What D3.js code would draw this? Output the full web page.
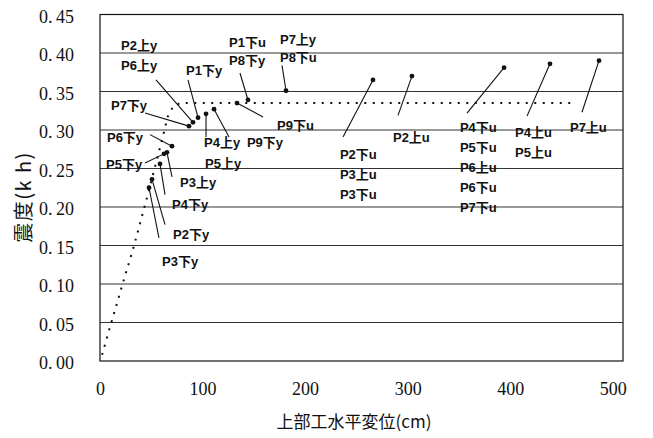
<!DOCTYPE html>
<html><head><meta charset="utf-8">
<script src="https://cdn.jsdelivr.net/npm/d3@7/dist/d3.min.js"></script>
<style>
body{margin:0;background:#fff;}
svg{display:block;}
</style></head>
<body>
<svg id="chart" width="653" height="438"></svg>
<script>
// ---- data ----
const xTicks = [0, 100, 200, 300, 400, 500];
const yTicks = [0, 0.05, 0.10, 0.15, 0.20, 0.25, 0.30, 0.35, 0.40, 0.45];
const xTitle = "上部工水平変位(cm)";
const yTitle = "震度(k h)";

// dotted reference curve
const curveX = [2, 8, 24, 32, 46, 61, 66, 71, 78, 463];
const curveY = [0.008, 0.036, 0.109, 0.144, 0.213, 0.290, 0.317, 0.330, 0.335, 0.335];

// individual result points (displacement, seismic coefficient)
const pointX = [90.7, 86.8, 95.6, 103.4, 111.2, 133.6, 144.3, 181.4, 70.2, 62.4, 65.3, 58.5, 50.7, 47.8, 266.2, 304.2, 394.0, 438.8, 486.6];
const pointY = [0.310, 0.305, 0.316, 0.321, 0.327, 0.335, 0.339, 0.351, 0.279, 0.269, 0.271, 0.256, 0.236, 0.225, 0.365, 0.370, 0.381, 0.386, 0.390];
// leader-line far ends (data units)
const leaderX = [54.6, 43.9, 85.8, 103.4, 125.8, 159.0, 136.5, 177.5, 48.8, 43.9, 70.2, 63.4, 63.4, 57.5, 237.0, 290.6, 357.9, 416.4, 470.0];
const leaderY = [0.365, 0.322, 0.365, 0.291, 0.291, 0.317, 0.374, 0.384, 0.294, 0.257, 0.239, 0.216, 0.177, 0.160, 0.291, 0.319, 0.322, 0.318, 0.323];

// labels (text, anchor in data units)
const labelText = ["P2上y","P6上y","P1下y","P1下u","P8下y","P7上y","P8下u","P7下y","P9下u","P6下y","P4上y","P9下y","P5下y","P5上y","P3上y","P4下y","P2下y","P3下y",
  "P2下u","P3上u","P3下u","P2上u","P4下u","P5下u","P6上u","P6下u","P7下u","P4上u","P5上u","P7上u"];
const labelX = [20.5, 20.5, 83.9, 125.8, 125.8, 175.5, 175.5, 10.7, 172.6, 6.8, 101.4, 143.3, 5.9, 102.4, 78.0, 70.2, 71.2, 60.5,
  234.0, 234.0, 234.0, 285.7, 351.0, 351.0, 351.0, 351.0, 351.0, 404.7, 404.7, 458.3];
const labelY = [0.410, 0.384, 0.378, 0.414, 0.391, 0.418, 0.395, 0.332, 0.306, 0.291, 0.284, 0.284, 0.256, 0.257, 0.232, 0.203, 0.165, 0.130,
  0.268, 0.242, 0.216, 0.290, 0.303, 0.277, 0.251, 0.225, 0.199, 0.297, 0.271, 0.303];

// ---- drawing ----
const svg = d3.select("#chart");
const pL = 100, pR = 623, pT = 14.5, pB = 361;
const x = d3.scaleLinear().domain([0, 510]).range([pL, pR]);
const y = d3.scaleLinear().domain([0, 0.45]).range([pB, pT]);
const serif = "'Liberation Serif', 'DejaVu Serif', 'Times New Roman', serif";

// gridlines
svg.append("g").selectAll("line").data(yTicks.filter(v => v > 0 && v < 0.45)).join("line")
  .attr("x1", pL).attr("x2", pR)
  .attr("y1", d => y(d)).attr("y2", d => y(d))
  .attr("stroke", "#333").attr("stroke-width", 1);

// frame
svg.append("rect").attr("x", pL).attr("y", pT)
  .attr("width", pR - pL).attr("height", pB - pT)
  .attr("fill", "none").attr("stroke", "#111").attr("stroke-width", 1.2);

// y axis labels
const fmt = d3.format(".2f");
const yAxis = d3.axisLeft(y).tickValues(yTicks).tickSize(0).tickPadding(0)
  .tickFormat(d => fmt(d).replace(".", ".\u2009"));
svg.append("g").attr("transform", `translate(74,2)`).call(yAxis)
  .attr("font-family", serif).attr("font-size", 18)
  .call(g => g.select(".domain").remove())
  .selectAll("text").attr("fill", "#111");

// x axis labels
const xAxis = d3.axisBottom(x).tickValues(xTicks).tickSize(0).tickPadding(0).tickFormat(d3.format("d"));
svg.append("g").attr("transform", `translate(0,382)`).call(xAxis)
  .attr("font-family", serif).attr("font-size", 18)
  .call(g => g.select(".domain").remove())
  .selectAll("text").attr("fill", "#111");

// axis titles
svg.append("text").attr("x", 354).attr("y", 428).attr("text-anchor", "middle")
  .style("font-family", "'Noto Sans CJK JP', sans-serif").style("font-size", "17px").attr("fill", "#111")
  .text(xTitle);
svg.append("text").attr("transform", "translate(31,197) rotate(-90)").attr("text-anchor", "middle")
  .style("font-family", "'Noto Sans CJK JP', sans-serif").style("font-size", "20px")
  .style("letter-spacing", "1.5px").attr("fill", "#111")
  .text(yTitle);

// dotted curve
const curve = curveX.map((v, i) => [v, curveY[i]]);
svg.append("path").datum(curve)
  .attr("d", d3.line().x(d => x(d[0])).y(d => y(d[1])))
  .attr("fill", "none").attr("stroke", "#111").attr("stroke-width", 2)
  .attr("stroke-dasharray", "2,6.5");

// leader lines
const pts = pointX.map((v, i) => ({x: v, y: pointY[i], lx: leaderX[i], ly: leaderY[i]}));
svg.append("g").selectAll("line").data(pts).join("line")
  .attr("x1", d => x(d.x)).attr("y1", d => y(d.y))
  .attr("x2", d => x(d.lx)).attr("y2", d => y(d.ly))
  .attr("stroke", "#111").attr("stroke-width", 1.1);

// points
svg.append("g").selectAll("circle").data(pts).join("circle")
  .attr("cx", d => x(d.x)).attr("cy", d => y(d.y)).attr("r", 2.4).attr("fill", "#111");

// labels
const labs = labelText.map((t, i) => ({t, x: labelX[i], y: labelY[i]}));
svg.append("g").selectAll("text").data(labs).join("text")
  .attr("x", d => x(d.x)).attr("y", d => y(d.y)).attr("dy", "0.36em")
  .style("font-family", "'Liberation Sans Narrow', 'Liberation Sans', 'Noto Sans CJK JP', sans-serif")
  .style("font-weight", "bold").style("font-size", "13px").attr("fill", "#111")
  .text(d => d.t);
</script>
</body></html>
